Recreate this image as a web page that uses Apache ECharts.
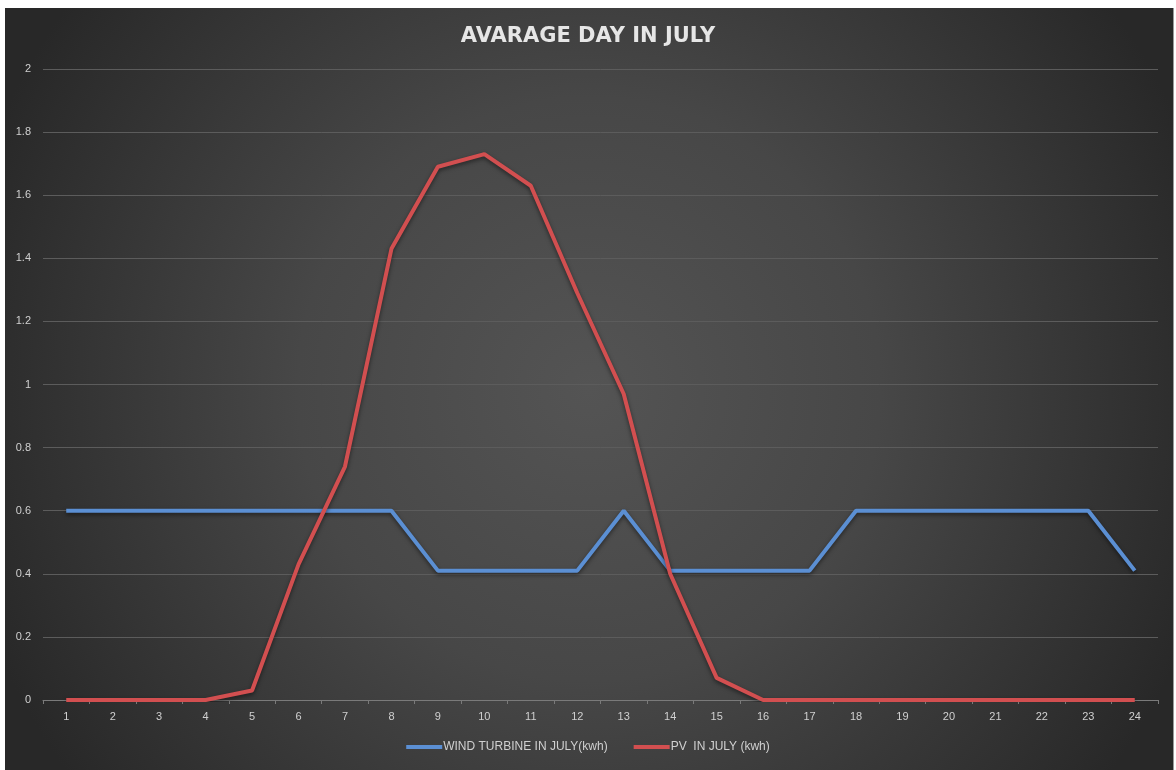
<!DOCTYPE html>
<html>
<head>
<meta charset="utf-8">
<style>
  html, body { margin: 0; padding: 0; background: #ffffff; }
  #chart { width: 1176px; height: 770px; }
</style>
<script src="https://cdn.jsdelivr.net/npm/echarts@6/dist/echarts.min.js"></script>
</head>
<body>
<div id="chart"></div>
<script>
// Hours of the day
const hours = ['1','2','3','4','5','6','7','8','9','10','11','12','13','14','15','16','17','18','19','20','21','22','23','24'];
// Hourly energy, kWh
const windJuly = [0.6,0.6,0.6,0.6,0.6,0.6,0.6,0.6,0.41,0.41,0.41,0.41,0.6,0.41,0.41,0.41,0.41,0.6,0.6,0.6,0.6,0.6,0.6,0.41];
const pvJuly   = [0,0,0,0,0.03,0.43,0.74,1.43,1.69,1.73,1.63,1.29,0.97,0.40,0.07,0,0,0,0,0,0,0,0,0];
const seriesNames = ['WIND TURBINE IN JULY(kwh)', 'PV  IN JULY (kwh)'];

const chart = echarts.init(document.getElementById('chart'), null, { renderer: 'canvas' });

const labelColor = '#d0d0d0';

chart.setOption({
  backgroundColor: '#ffffff',
  animation: false,
  graphic: [{
    type: 'rect',
    left: 5, top: 8,
    shape: { width: 1168, height: 762 },
    style: {
      fill: new echarts.graphic.RadialGradient(0.5, 0.5, 0.85, [
        { offset: 0, color: '#545454' },
        { offset: 0.45, color: '#474747' },
        { offset: 1, color: '#282828' }
      ])
    },
    z: -10
  }, {
    type: 'rect',
    left: 1173, top: 8,
    shape: { width: 1, height: 762 },
    style: { fill: '#9a9a9a' },
    z: -9
  }],
  title: {
    text: 'AVARAGE DAY IN JULY',
    left: 'center',
    top: 21,
    textStyle: {
      color: '#e6e6e6',
      fontFamily: 'DejaVu Sans',
      fontWeight: 'bold',
      fontSize: 21
    }
  },
  grid: { left: 43, right: 18, top: 69, bottom: 70 },
  xAxis: {
    type: 'category',
    data: hours,
    boundaryGap: true,
    axisLine: { lineStyle: { color: '#7a7a7a', width: 1 } },
    axisTick: { show: true, length: 4, lineStyle: { color: '#7a7a7a' } },
    axisLabel: { color: labelColor, fontSize: 11, margin: 11, fontFamily: 'Liberation Sans' },
    splitLine: { show: false }
  },
  yAxis: {
    type: 'value',
    min: 0, max: 2, interval: 0.2,
    axisLine: { show: false },
    axisTick: { show: false },
    axisLabel: { color: labelColor, fontSize: 11, margin: 12, fontFamily: 'Liberation Sans' },
    splitLine: { lineStyle: { color: '#5c5c5c', width: 1 } }
  },
  legend: {
    bottom: 12,
    left: 'center',
    icon: 'rect',
    itemWidth: 36,
    itemHeight: 4,
    itemGap: 26,
    textStyle: { color: labelColor, fontSize: 12, fontFamily: 'Liberation Sans', padding: [0, 0, 0, -4] },
    data: seriesNames
  },
  series: [{
    name: seriesNames[0],
    type: 'line',
    data: windJuly,
    showSymbol: false,
    symbol: 'none',
    lineStyle: { color: '#5b8fd3', width: 4, shadowColor: 'rgba(0,0,0,0.5)', shadowBlur: 4, shadowOffsetY: 2 },
    itemStyle: { color: '#5b8fd3' },
    z: 2
  }, {
    name: seriesNames[1],
    type: 'line',
    data: pvJuly,
    showSymbol: false,
    symbol: 'none',
    lineStyle: { color: '#d24f50', width: 4, shadowColor: 'rgba(0,0,0,0.5)', shadowBlur: 4, shadowOffsetY: 2 },
    itemStyle: { color: '#d24f50' },
    z: 3
  }]
});
</script>
</body>
</html>
